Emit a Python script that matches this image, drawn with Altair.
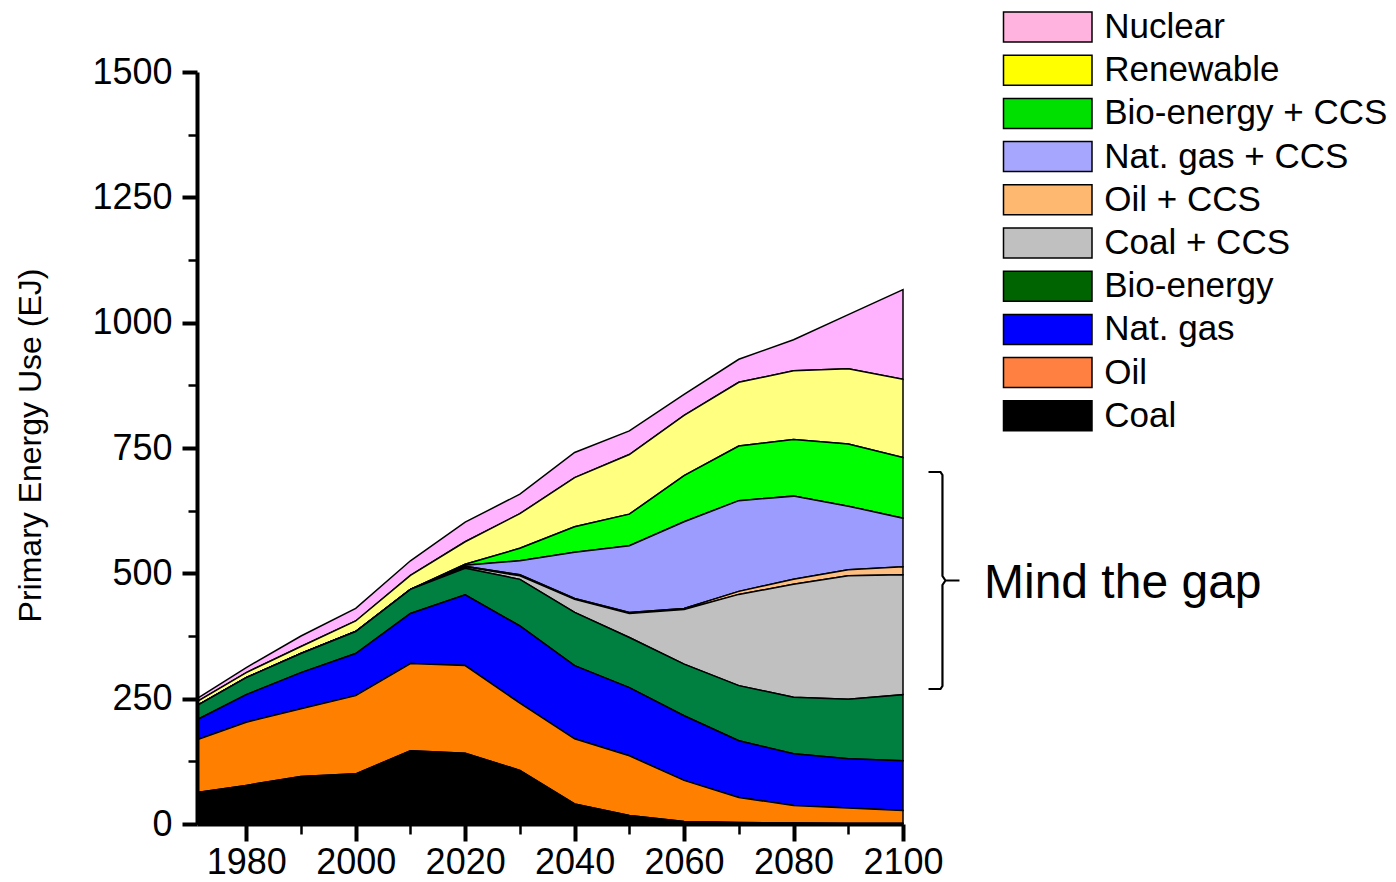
import altair as alt
import pandas as pd

# ---------------- data ----------------
years = [1971, 1980, 1990, 2000, 2010, 2020, 2030, 2040, 2050, 2060, 2070, 2080, 2090, 2100]

coal       = [63, 77, 95, 100, 146, 141, 107, 40, 17, 5, 3, 2, 1, 1]
oil        = [105, 126, 135, 156, 174, 175, 134, 130, 119, 82, 50, 35, 31, 26]
nat_gas    = [40, 55, 72, 84, 100, 141, 154, 146, 136, 129, 113, 103, 98, 99]
bio        = [28, 34, 38, 44, 48, 53, 93, 106, 100, 103, 110, 113, 119, 132]
coal_ccs   = [0, 0, 0, 0, 0, 3, 7, 26, 48, 109, 182, 225, 246, 239]
oil_ccs    = [0, 0, 0, 0, 0, 1, 2, 2, 2, 2, 6, 10, 12, 16]
gas_ccs    = [0, 0, 0, 0, 0, 2, 28, 92, 133, 173, 181, 166, 127, 97]
bio_ccs    = [0, 0, 0, 0, 0, 2, 25, 51, 63, 92, 109, 113, 124, 121]
renewable  = [8, 10, 14, 21, 28, 45, 69, 98, 119, 120, 127, 137, 150, 156]
nuclear    = [6, 10, 21, 25, 29, 39, 39, 50, 47, 42, 46, 62, 108, 179]

# legend order (top to bottom)
sources = ["Nuclear", "Renewable", "Bio-energy + CCS", "Nat. gas + CCS", "Oil + CCS",
           "Coal + CCS", "Bio-energy", "Nat. gas", "Oil", "Coal"]
# fill colours of the areas
colors = ["#FFB3FF", "#FFFF80", "#00FF00", "#9C9CFF", "#FFBF80",
          "#C0C0C0", "#008040", "#0000FF", "#FF8000", "#000000"]
# colours of the legend swatches (slightly different in the reference)
legend_colors = ["#FFB3DE", "#FFFF00", "#00E000", "#A6A6FF", "#FFB870",
                 "#C0C0C0", "#006400", "#0000FF", "#FF8040", "#000000"]

series = {
    "Coal": coal, "Oil": oil, "Nat. gas": nat_gas, "Bio-energy": bio,
    "Coal + CCS": coal_ccs, "Oil + CCS": oil_ccs, "Nat. gas + CCS": gas_ccs,
    "Bio-energy + CCS": bio_ccs, "Renewable": renewable, "Nuclear": nuclear,
}

x_major = [1980, 2000, 2020, 2040, 2060, 2080, 2100]
x_minor = [1990, 2010, 2030, 2050, 2070, 2090]
y_major = [0, 250, 500, 750, 1000, 1250, 1500]
y_minor = [125, 375, 625, 875, 1125, 1375]

# annotation: bracket "}" and its text (in data units)
bracket_x = [2104.66, 2106.85, 2107.21, 2107.21, 2107.76, 2110.32, 2107.76, 2107.21, 2107.21, 2106.85, 2104.66]
bracket_y = [702.1, 702.1, 696.2, 494.7, 485.7, 485.7, 485.7, 476.7, 275.3, 269.3, 269.3]
note_text = ["Mind the gap"]
note_x = [2114.8]
note_y = [450.8]

# ---------------- tables ----------------
rows = []
n = len(sources)
for i, s in enumerate(sources):
    for yr, v in zip(years, series[s]):
        rows.append({"year": yr, "source": s, "value": v, "stack": n - 1 - i})
df = pd.DataFrame(rows)

leg_df = pd.DataFrame({"source": sources, "year": [years[0]] * n, "value": [0] * n})
br = pd.DataFrame({"x": bracket_x, "y": bracket_y, "i": list(range(len(bracket_x)))})
nt = pd.DataFrame({"x": note_x, "y": note_y, "t": note_text})

FONT = "Liberation Sans"

x_scale = alt.Scale(domain=[1971, 2100], nice=False, zero=False)
y_scale = alt.Scale(domain=[0, 1500], nice=False)

x_axis = alt.Axis(
    orient="bottom", values=x_major, format="d", title=None,
    labelFont=FONT, labelFontSize=36, labelColor="black", labelPadding=4,
    labelFlush=False, labelOverlap=False,
    tickColor="black", tickSize=17, tickWidth=4,
    domainColor="black", domainWidth=4, grid=False, zindex=1,
)
y_axis = alt.Axis(
    orient="left", values=y_major, format="d", title="Primary Energy Use (EJ)",
    labelFont=FONT, labelFontSize=36, labelColor="black", labelPadding=10,
    labelOverlap=False, labelFlush=False,
    tickColor="black", tickSize=15, tickWidth=4,
    domainColor="black", domainWidth=4, grid=False, zindex=1,
    titleFont=FONT, titleFontSize=32, titleFontWeight="normal", titleColor="black",
    titleAngle=270, titleAlign="center", titleBaseline="alphabetic",
    titleX=-157, titleY=373,
)
x_axis_minor = alt.Axis(
    orient="bottom", values=x_minor, title=None, labels=False, domain=False, grid=False,
    tickColor="black", tickSize=10, tickWidth=2.5, zindex=1,
)
y_axis_minor = alt.Axis(
    orient="left", values=y_minor, title=None, labels=False, domain=False, grid=False,
    tickColor="black", tickSize=9, tickWidth=2.5, zindex=1,
)

legend = alt.Legend(
    title=None, orient="none", legendX=806.5, legendY=-62.5, padding=0,
    symbolType="M-2.95,-1H2.95V1H-2.95Z", symbolSize=900,
    symbolStrokeColor="black", symbolStrokeWidth=1.5, symbolOpacity=1,
    symbolOffset=26.75, labelOffset=39,
    labelFont=FONT, labelFontSize=35, labelColor="black", labelLimit=600,
    rowPadding=6.2,
)

area = alt.Chart(df).mark_area(stroke="black", strokeWidth=1.5, opacity=1).encode(
    x=alt.X("year:Q", scale=x_scale, axis=x_axis),
    y=alt.Y("value:Q", stack="zero", scale=y_scale, axis=y_axis),
    color=alt.Color("source:N", scale=alt.Scale(domain=sources, range=colors), legend=None),
    order=alt.Order("stack:Q", sort="ascending"),
)

# legend-only layer (draws nothing, carries the legend with the swatch colours)
legend_layer = alt.Chart(leg_df).transform_filter("false").mark_area(
    stroke="black", strokeWidth=1.5, opacity=1
).encode(
    x=alt.X("year:Q", scale=x_scale, axis=None),
    y=alt.Y("value:Q", scale=y_scale, axis=None),
    color=alt.Color("source:N", scale=alt.Scale(domain=sources, range=legend_colors), legend=legend),
)

bracket = alt.Chart(br).mark_line(color="black", strokeWidth=2.2, clip=False).encode(
    x=alt.X("x:Q", scale=x_scale, axis=x_axis_minor),
    y=alt.Y("y:Q", scale=y_scale, axis=y_axis_minor),
    order=alt.Order("i:Q"),
)

note = alt.Chart(nt).mark_text(
    align="left", baseline="alphabetic", font=FONT, fontSize=48, color="black", clip=False
).encode(
    x=alt.X("x:Q", scale=x_scale, axis=None),
    y=alt.Y("y:Q", scale=y_scale, axis=None),
    text="t:N",
)

chart = alt.layer(area, legend_layer, bracket, note).resolve_axis(
    x="independent", y="independent"
).resolve_scale(
    color="independent"
).properties(
    width=706, height=752,
    padding={"left": 189, "top": 64, "right": 485, "bottom": 50},
    autosize=alt.AutoSizeParams(type="none"),
    background="white",
).configure(font=FONT).configure_view(stroke=None)

chart.save("out.html", embed_options={"renderer": "svg", "actions": False})
